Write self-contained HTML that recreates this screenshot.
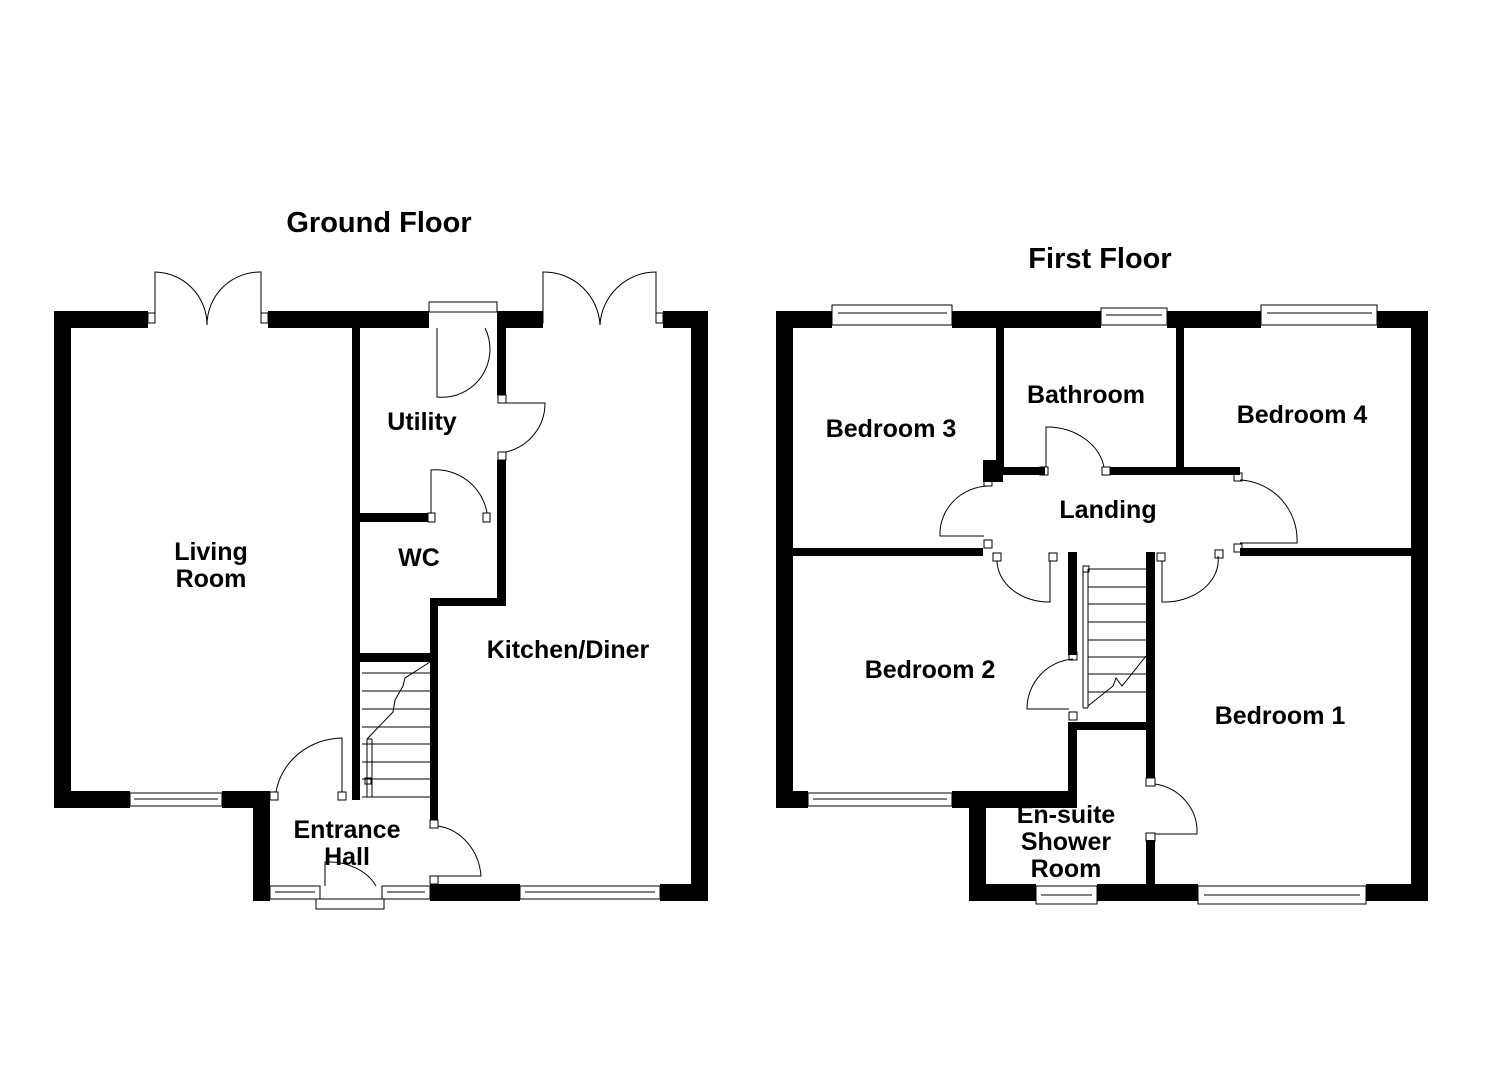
<!DOCTYPE html>
<html><head><meta charset="utf-8"><style>
html,body{margin:0;padding:0;background:#fff;}
svg{display:block;}
text{font-family:"Liberation Sans",Arial,sans-serif;font-weight:bold;fill:#000;}
</style></head><body>
<svg width="1485" height="1080" viewBox="0 0 1485 1080" xmlns="http://www.w3.org/2000/svg">
<rect width="1485" height="1080" fill="#fff"/>
<g fill="#000">
<rect x="54" y="311" width="94" height="17"/>
<rect x="268" y="311" width="161" height="17"/>
<rect x="497" y="311" width="46" height="17"/>
<rect x="663" y="311" width="45" height="17"/>
<rect x="54" y="311" width="17" height="497"/>
<rect x="691" y="311" width="17" height="590"/>
<rect x="54" y="791" width="76" height="17"/>
<rect x="222" y="791" width="48" height="17"/>
<rect x="253" y="791" width="17" height="110"/>
<rect x="430" y="884" width="90" height="17"/>
<rect x="660" y="884" width="48" height="17"/>
<rect x="352" y="328" width="8" height="472"/>
<rect x="497" y="328" width="9" height="67"/>
<rect x="497" y="460" width="9" height="146"/>
<rect x="430" y="598" width="76" height="8"/>
<rect x="430" y="598" width="8" height="222"/>
<rect x="360" y="513" width="68" height="9"/>
<rect x="360" y="653" width="70" height="9"/>
<rect x="776" y="311" width="56" height="17"/>
<rect x="952" y="311" width="149" height="17"/>
<rect x="1167" y="311" width="94" height="17"/>
<rect x="1377" y="311" width="51" height="17"/>
<rect x="776" y="311" width="17" height="497"/>
<rect x="1411" y="311" width="17" height="590"/>
<rect x="776" y="791" width="32" height="17"/>
<rect x="952" y="791" width="125" height="17"/>
<rect x="969" y="791" width="17" height="110"/>
<rect x="969" y="884" width="67" height="17"/>
<rect x="1097" y="884" width="101" height="17"/>
<rect x="1366" y="884" width="62" height="17"/>
<rect x="996" y="328" width="8" height="147"/>
<rect x="983" y="460" width="20" height="22"/>
<rect x="1004" y="467" width="41" height="8"/>
<rect x="1110" y="467" width="130" height="8"/>
<rect x="1176" y="328" width="8" height="147"/>
<rect x="793" y="548" width="190" height="8"/>
<rect x="1240" y="548" width="171" height="8"/>
<rect x="1068" y="552" width="9" height="103"/>
<rect x="1146" y="552" width="9" height="226"/>
<rect x="1146" y="840" width="9" height="44"/>
<rect x="1068" y="722" width="87" height="8"/>
<rect x="1068" y="722" width="9" height="86"/>
</g>
<g fill="none" stroke="#000" stroke-width="1">
<rect x="130" y="793" width="92" height="13"/><line x1="134" y1="799" x2="218" y2="799"/>
<rect x="520" y="886" width="140" height="13"/><line x1="525" y1="892" x2="655" y2="892"/>
<rect x="270" y="886" width="50" height="13"/><line x1="275" y1="892" x2="315" y2="892"/>
<rect x="382" y="886" width="48" height="13"/><line x1="387" y1="892" x2="425" y2="892"/>
<rect x="316" y="899" width="68" height="10"/>
<rect x="429" y="302" width="68" height="10"/>
<rect x="148" y="313" width="7" height="10"/><rect x="261" y="313" width="7" height="10"/>
<path d="M155 313 V272 A53 53 0 0 1 207 325"/>
<path d="M261 313 V272 A53 53 0 0 0 207 325"/>
<rect x="537" y="313" width="6" height="10"/><rect x="656" y="313" width="7" height="10"/>
<path d="M543 313 V272 A56 56 0 0 1 600 325"/>
<path d="M656 313 V272 A56 56 0 0 0 600 325"/>
<path d="M437 328 V397 A48 48 0 0 0 485 328"/>
<rect x="498" y="395" width="8" height="8"/><rect x="498" y="452" width="8" height="8"/>
<path d="M506 403 H545 A50 50 0 0 1 506 452"/>
<rect x="428" y="513" width="7" height="9"/><rect x="483" y="513" width="7" height="9"/>
<path d="M431 513 V470 A52 52 0 0 1 487 513"/>
<rect x="270" y="792" width="8" height="8"/><rect x="338" y="792" width="8" height="8"/>
<path d="M342 792 V738 A68 64 0 0 0 276 792"/>
<rect x="430" y="820" width="8" height="8"/><rect x="430" y="876" width="8" height="8"/>
<path d="M438 826 A50 55 0 0 1 481 876 H438"/>
<path d="M325 886 V862 A52 40 0 0 1 376 886"/>
<path d="M367 739 V797 M372 739 V797 M367 739 H372"/>
<rect x="365" y="778" width="6" height="6"/>
<path d="M362 673 H430 M362 691 H430 M362 709 H430 M362 727 H430 M362 744 H430 M362 762 H430 M362 779 H430 M362 797 H430"/>
<path d="M367 739 L393 712 L395 700 L403 686 L405 678 L430 662"/>
<rect x="832" y="305" width="120" height="20"/><line x1="838" y1="313" x2="947" y2="313"/>
<rect x="1101" y="308" width="66" height="17"/><line x1="1106" y1="315" x2="1162" y2="315"/>
<rect x="1261" y="305" width="116" height="20"/><line x1="1267" y1="313" x2="1372" y2="313"/>
<rect x="808" y="793" width="144" height="13"/><line x1="813" y1="799" x2="947" y2="799"/>
<rect x="1036" y="886" width="61" height="18"/><line x1="1041" y1="895" x2="1092" y2="895"/>
<rect x="1198" y="886" width="168" height="18"/><line x1="1204" y1="895" x2="1360" y2="895"/>
<rect x="1040" y="467" width="8" height="8"/><rect x="1102" y="467" width="8" height="8"/>
<path d="M1046 467 V427 A58 48 0 0 1 1104 467"/>
<rect x="984" y="477" width="8" height="9"/><rect x="984" y="540" width="8" height="8"/>
<path d="M988 486 A50 48 0 0 0 940 536 H984"/>
<rect x="1234" y="473" width="8" height="8"/><rect x="1234" y="544" width="8" height="8"/>
<path d="M1240 480 A60 60 0 0 1 1297 543 H1240"/>
<rect x="993" y="553" width="8" height="8"/><rect x="1049" y="553" width="8" height="8"/>
<path d="M997 561 A52 42 0 0 0 1050 602 V561"/>
<rect x="1157" y="553" width="8" height="8"/><rect x="1215" y="550" width="8" height="8"/>
<path d="M1162 561 V602 A54 42 0 0 0 1218 556"/>
<rect x="1069" y="652" width="8" height="8"/><rect x="1069" y="712" width="8" height="8"/>
<path d="M1073 659 A50 50 0 0 0 1027 709 H1069"/>
<rect x="1146" y="778" width="9" height="8"/><rect x="1146" y="833" width="9" height="8"/>
<path d="M1155 784 A50 48 0 0 1 1197 834 H1155"/>
<path d="M1083 569 V708 M1088 569 V708 M1083 708 H1088"/>
<rect x="1083" y="566" width="6" height="6"/>
<path d="M1088 569 H1146 M1088 587 H1146 M1088 604 H1146 M1088 622 H1146 M1088 640 H1146 M1088 657 H1146 M1088 674 H1146 M1088 692 H1146"/>
<path d="M1088 706 L1113 686 L1116 678 L1122 686 L1146 656"/>
</g>
<g font-size="29" text-anchor="middle">
<text x="379" y="232">Ground Floor</text>
<text x="1100" y="268">First Floor</text>
</g>
<g font-size="25" text-anchor="middle">
<text x="211" y="560">Living</text>
<text x="211" y="587">Room</text>
<text x="422" y="430">Utility</text>
<text x="419" y="566">WC</text>
<text x="568" y="658">Kitchen/Diner</text>
<text x="347" y="838">Entrance</text>
<text x="347" y="865">Hall</text>
<text x="891" y="437">Bedroom 3</text>
<text x="1086" y="403">Bathroom</text>
<text x="1302" y="423">Bedroom 4</text>
<text x="1108" y="518">Landing</text>
<text x="930" y="678">Bedroom 2</text>
<text x="1280" y="724">Bedroom 1</text>
<text x="1066" y="823">En-suite</text>
<text x="1066" y="850">Shower</text>
<text x="1066" y="877">Room</text>
</g>
</svg>
</body></html>
